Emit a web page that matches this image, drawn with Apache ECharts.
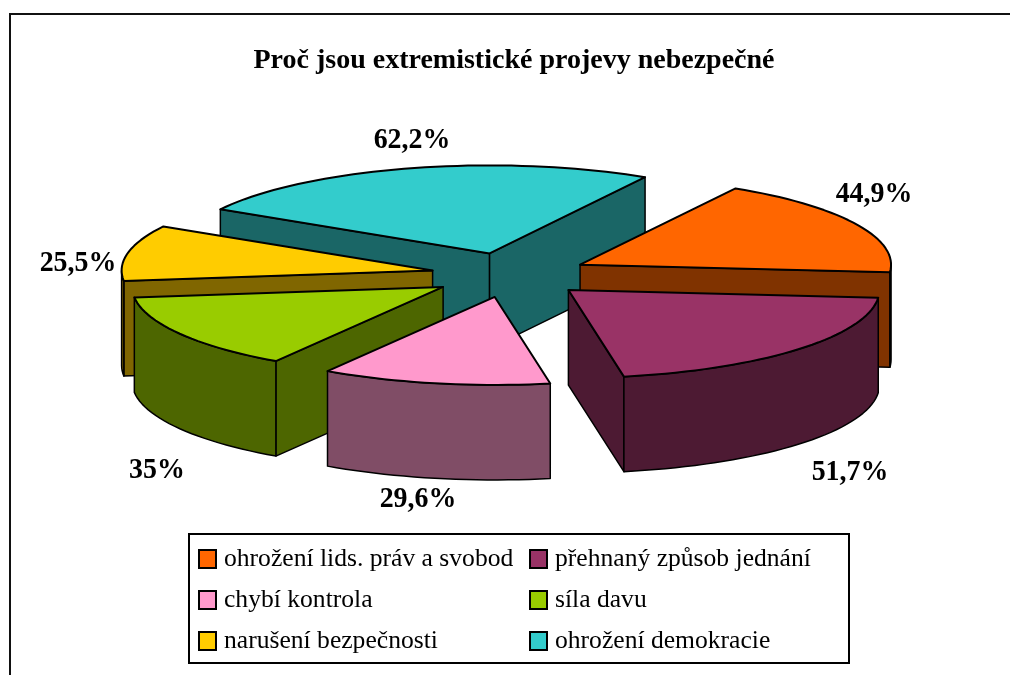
<!DOCTYPE html>
<html>
<head>
<meta charset="utf-8">
<style>
  html, body { margin: 0; padding: 0; background: #fff; }
  #main { width: 1010px; height: 675px; }
</style>
<script src="https://cdn.jsdelivr.net/npm/echarts@6/dist/echarts.min.js"></script>
</head>
<body>
<div id="main"></div>
<script>
const titleText = "Proč jsou extremistické projevy nebezpečné";
const categories = [
  "ohrožení lids. práv a svobod",
  "přehnaný způsob jednání",
  "chybí kontrola",
  "síla davu",
  "narušení bezpečnosti",
  "ohrožení demokracie"
];
const values = [44.9, 51.7, 29.6, 35, 25.5, 62.2];

const topColors = ["#FF6600", "#993366", "#FF99CC", "#99CC00", "#FFCC00", "#33CCCC"];
const sideColors = ["#803300", "#4D1A33", "#804D66", "#4D6600", "#806600", "#1A6666"];
// order the slices are painted in, back to front
const paintRank = [1, 4, 5, 3, 2, 0];
// label centres, same order as categories
const labelX = [874, 850, 418, 157, 78, 412];
const labelY = [194, 472, 499, 470, 263, 140];

// pie projection
const cx = 510, cy = 275, rx = 311, ry = 88, depth = 95, explode = 79;
const startAngle = 30;
const total = values.reduce((a, b) => a + b, 0);
const rad = d => d * Math.PI / 180;

// angle is clockwise from north
function rim(c, a) {
  return [c[0] + rx * Math.sin(rad(a)), c[1] - ry * Math.cos(rad(a))];
}
function down(p) {
  return [p[0], p[1] + depth];
}
function arcPoints(c, a0, a1) {
  const pts = [];
  const n = Math.max(2, Math.ceil((a1 - a0) / 2));
  for (let i = 0; i <= n; i++) pts.push(rim(c, a0 + (a1 - a0) * i / n));
  return pts;
}
function poly(points, fill, lineWidth) {
  return {
    type: "polygon",
    shape: { points: points },
    style: { fill: fill, stroke: "#000", lineWidth: lineWidth, lineJoin: "round" }
  };
}

function renderSlice(i, params, api) {
  const value = api.value(0);
  let a0 = startAngle;
  for (let k = 0; k < i; k++) a0 += values[k] / total * 360;
  const a1 = a0 + value / total * 360;
  const mid = (a0 + a1) / 2;
  const c = [
    cx + explode * Math.sin(rad(mid)),
    cy - explode * (ry / rx) * Math.cos(rad(mid))
  ];
  const side = sideColors[i];
  const children = [];

  // cut faces, only those turned towards the viewer
  const face = a => {
    const p = rim(c, a);
    return poly([c, p, down(p), down(c)], side, 1.5);
  };
  if (Math.sin(rad(a0)) < 0) children.push(face(a0));
  if (Math.sin(rad(a1)) > 0) children.push(face(a1));

  // outer wall, visible between 90 and 270 degrees
  const from = Math.max(a0, 90), to = Math.min(a1, 270);
  if (to > from) {
    const arc = arcPoints(c, from, to);
    children.push(poly(arc.concat(arc.map(down).reverse()), side, 1.5));
  }

  children.push(poly([c].concat(arcPoints(c, a0, a1)), topColors[i], 2));

  // the reference text is tall and a little narrow
  children.push({
    type: "text",
    x: labelX[i],
    y: labelY[i],
    scaleX: 0.93,
    style: {
      text: String(value).replace(".", ",") + "%",
      align: "center",
      verticalAlign: "middle",
      fill: "#000",
      font: "bold 30px 'Liberation Serif'"
    }
  });
  return { type: "group", children: children };
}

const chart = echarts.init(document.getElementById("main"));
chart.setOption({
  animation: false,
  backgroundColor: "#fff",
  graphic: [{
    type: "rect",
    silent: true,
    shape: { x: 10, y: 14, width: 1100, height: 800 },
    style: { fill: "none", stroke: "#111", lineWidth: 2 }
  }],
  title: {
    text: titleText,
    left: 509,
    top: 42,
    textAlign: "center",
    textStyle: {
      fontFamily: "Liberation Serif",
      fontWeight: "bold",
      fontSize: 28,
      color: "#000"
    }
  },
  legend: {
    data: categories,
    left: 189,
    top: 534,
    width: 720,
    orient: "horizontal",
    selectedMode: false,
    icon: "rect",
    itemWidth: 17,
    itemHeight: 18,
    itemGap: 13,
    itemStyle: { borderColor: "#000", borderWidth: 2 },
    padding: [11, 2, 8, 9],
    backgroundColor: "#fff",
    borderColor: "#000",
    borderWidth: 2,
    textStyle: {
      fontFamily: "Liberation Serif",
      fontSize: 25.6,
      color: "#000",
      width: 292,
      lineHeight: 28,
      padding: [0, 0, 0, 3]
    }
  },
  series: categories.map((name, i) => ({
    type: "custom",
    name: name,
    coordinateSystem: "none",
    z: 2 + paintRank[i],
    itemStyle: { color: topColors[i] },
    data: [[values[i]]],
    renderItem: (params, api) => renderSlice(i, params, api)
  }))
});
</script>
</body>
</html>
